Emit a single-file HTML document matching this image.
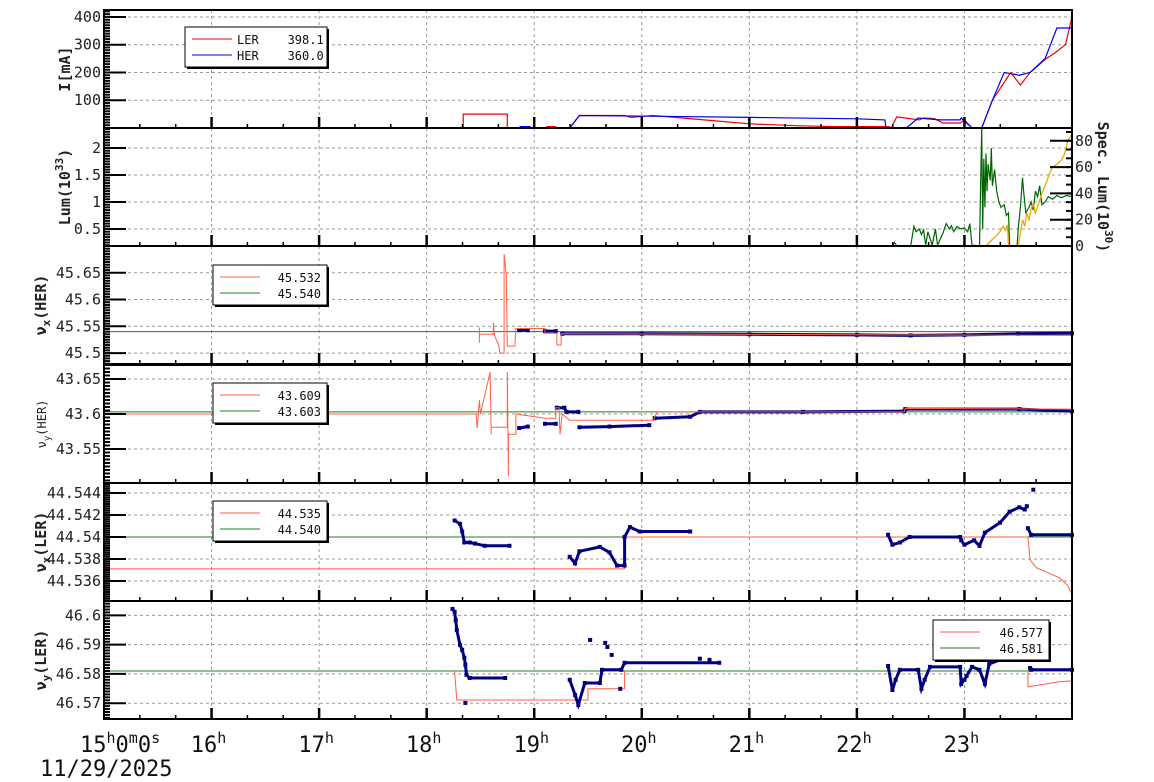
<!DOCTYPE html>
<html><head><meta charset="utf-8">
<style>
html,body{margin:0;padding:0;background:#fff;}
svg{display:block;font-family:"DejaVu Sans Mono","Liberation Mono",monospace;}
</style></head>
<body>
<svg id="chart" width="1154" height="782" viewBox="0 0 1154 782" xmlns="http://www.w3.org/2000/svg">
<g id="grid"></g>
<g id="marks"></g>
<g id="axes"></g>
<g id="legends"></g>
</svg>
<script>
// ---- data ----
const hourTicks = [16,17,18,19,20,21,22,23];
const curLER = [[15,0],[18.34,0],[18.34,50],[18.75,50],[18.75,0],[19.1,0],[19.12,5],[19.2,5],[19.2,0],[19.33,0],[19.42,45],[19.84,45],[19.9,38],[20.1,45],[20.5,32],[21.0,15],[21.47,8],[21.8,5],[22.3,5],[22.32,0],[22.37,40],[22.58,29],[22.62,36],[22.72,34],[22.8,18],[22.96,18],[23.0,29],[23.07,0],[23.16,0],[23.26,100],[23.43,200],[23.52,155],[23.61,200],[23.76,250],[23.84,270],[23.94,300],[24,400]];
const curHER = [[15,0],[18.86,0],[18.87,5],[18.96,5],[18.97,0],[19.33,0],[19.42,45],[20.17,42],[21.0,38],[22.0,33],[22.26,29],[22.27,0],[22.46,0],[22.57,36],[22.77,29],[22.96,29],[22.97,36],[23.07,0],[23.16,0],[23.26,100],[23.37,200],[23.51,190],[23.61,200],[23.75,250],[23.86,360],[24,360]];
const lumGreen = [[22.33,0.185],[22.35,0.25],[22.37,0.19],[22.5,0.19],[22.53,0.55],[22.55,0.45],[22.58,0.5],[22.6,0.4],[22.62,0.48],[22.64,0.2],[22.66,0.45],[22.7,0.2],[22.73,0.5],[22.75,0.2],[22.8,0.42],[22.83,0.6],[22.86,0.5],[22.88,0.56],[22.9,0.45],[22.93,0.55],[22.96,0.5],[23.0,0.52],[23.03,0.45],[23.05,0.6],[23.07,0.2],[23.14,0.19],[23.16,2.37],[23.17,0.5],[23.18,1.8],[23.19,0.9],[23.2,1.9],[23.21,1.2],[23.22,1.7],[23.24,1.4],[23.25,2.0],[23.26,1.3],[23.28,1.6],[23.3,1.2],[23.32,1.0],[23.34,0.9],[23.37,0.95],[23.39,0.75],[23.41,0.8],[23.42,0.19],[23.49,0.19],[23.5,0.5],[23.52,0.9],[23.54,1.45],[23.55,1.2],[23.57,0.8],[23.6,0.9],[23.62,1.0],[23.64,0.85],[23.66,1.2],[23.68,1.1],[23.7,1.3],[23.72,0.95],[23.75,1.0],[23.78,1.1],[23.82,1.05],[23.86,1.12],[23.9,1.08],[23.95,1.12],[24,1.1]];
const specLum = [[22.58,0],[23.2,0],[23.26,5],[23.3,8],[23.33,11],[23.36,15],[23.38,12],[23.4,16],[23.41,0],[23.5,0],[23.52,10],[23.54,20],[23.56,15],[23.58,25],[23.6,20],[23.62,28],[23.64,32],[23.66,25],[23.68,30],[23.7,35],[23.73,42],[23.76,48],[23.79,55],[23.82,60],[23.86,62],[23.9,65],[23.93,70],[23.96,80],[24,85]];
const nxHerRef = 45.540;
const nxHerSet = [[18.49,45.548],[18.49,45.519],[18.49,45.535],[18.62,45.535],[18.62,45.557],[18.63,45.533],[18.67,45.515],[18.68,45.5],[18.72,45.5],[18.72,45.685],[18.74,45.646],[18.75,45.513],[18.82,45.513],[18.83,45.546],[19.1,45.546],[19.1,45.537],[19.21,45.537],[19.21,45.515],[19.25,45.515],[19.25,45.536],[24,45.533]];
const nxHerMeas = [[18.86,45.5426],[18.94,45.5426],null,[19.1,45.541],[19.2,45.541],null,[19.26,45.536],[20.0,45.536],[21.0,45.535],[22.0,45.534],[22.5,45.533],[23.0,45.534],[23.5,45.536],[24,45.537]];
const nyHerRef = 43.603;
const nyHerSet = [[15,43.6],[18.46,43.6],[18.47,43.58],[18.49,43.62],[18.5,43.6],[18.56,43.64],[18.59,43.66],[18.6,43.571],[18.6,43.581],[18.75,43.581],[18.75,43.66],[18.76,43.511],[18.76,43.571],[18.83,43.571],[18.83,43.6],[19.1,43.594],[19.2,43.594],[19.2,43.609],[19.23,43.609],[19.24,43.571],[19.26,43.6],[19.33,43.591],[20.11,43.591],[20.14,43.603],[22.44,43.603],[22.45,43.608],[24,43.607]];
const nyHerMeas = [[18.86,43.58],[18.94,43.582],null,[19.1,43.586],[19.2,43.586],null,[19.21,43.609],[19.28,43.609],[19.3,43.603],[19.41,43.603],null,[19.42,43.581],[19.7,43.582],[20.07,43.584],null,[20.12,43.594],[20.45,43.596],[20.54,43.603],[21.5,43.603],[22.44,43.604],[22.45,43.607],[23.51,43.607],[24,43.604]];
const nxLerRef = 44.540;
const nxLerSet = [[15,44.5371],[19.84,44.5371],[19.84,44.540],[23.59,44.540],[23.61,44.5379],[23.67,44.5372],[23.79,44.5367],[23.88,44.5363],[23.96,44.5356],[24,44.5348]];
const nxLerMeas = [[18.26,44.5415],[18.31,44.5412],[18.33,44.5405],[18.35,44.5395],[18.4,44.5395],[18.45,44.5394],[18.54,44.5392],[18.77,44.5392],null,[19.33,44.5382],[19.38,44.5376],[19.42,44.5387],[19.61,44.5391],[19.7,44.5386],[19.77,44.5374],[19.84,44.5374],[19.84,44.540],[19.89,44.5409],[19.98,44.5405],[20.45,44.5405],null,[22.29,44.5402],[22.33,44.5393],[22.4,44.5395],[22.49,44.540],[22.96,44.540],[22.97,44.5397],[23.0,44.5393],[23.09,44.5397],[23.14,44.5392],[23.19,44.5404],[23.33,44.5413],[23.42,44.5423],[23.51,44.5427],[23.56,44.5425],[23.58,44.5428],null,[23.59,44.5408],[23.62,44.5402],[24,44.5402]];
const nxLerOut = [[23.64,44.5443]];
const nyLerRef = 46.581;
const nyLerSet = [[18.26,46.581],[18.28,46.5711],[19.5,46.5711],[19.5,46.5749],[19.84,46.5749],[19.84,46.581],null,[23.59,46.581],[23.59,46.5756],[23.7,46.5762],[23.88,46.5773],[24,46.5776]];
const nyLerMeas = [[18.24,46.6022],[18.26,46.6012],[18.27,46.5984],[18.28,46.595],[18.31,46.5899],[18.33,46.5882],[18.35,46.5855],[18.36,46.5831],[18.37,46.5797],[18.4,46.5786],[18.73,46.5786],null,[19.33,46.5780],[19.38,46.5728],[19.41,46.5694],[19.47,46.5769],[19.61,46.5769],[19.63,46.5814],[19.81,46.5814],[19.84,46.5838],[20.72,46.5838],null,[22.29,46.5827],[22.33,46.5745],[22.36,46.578],[22.4,46.5814],[22.57,46.5814],[22.6,46.5749],[22.63,46.578],[22.68,46.5824],[22.96,46.5824],[22.97,46.5766],[23.0,46.578],[23.02,46.5793],[23.07,46.5824],[23.14,46.5814],[23.19,46.5766],[23.23,46.5834],[23.33,46.5848],[23.42,46.5855],[23.51,46.5865],[23.56,46.5882],null,[23.61,46.582],[23.62,46.5814],[24,46.5814]];
const nyLerOut = [[18.36,46.5701],[19.52,46.5916],[19.66,46.5906],[19.68,46.5892],[19.72,46.5865],[19.8,46.5749],[20.54,46.5852],[20.63,46.5848]];
const legendP1 = [["LER","398.1","#e00000"],["HER","360.0","#0000e0"]];
const legendP3 = [["45.532","#ff6040"],["45.540","#208020"]];
const legendP4 = [["43.609","#ff6040"],["43.603","#208020"]];
const legendP5 = [["44.535","#ff6040"],["44.540","#208020"]];
const legendP6 = [["46.577","#ff6040"],["46.581","#208020"]];

// ---- layout ----
const X0=104, X1=1072, H0=15, H1=24;
const NS="http://www.w3.org/2000/svg";
function xs(h){return X0+(h-H0)/(H1-H0)*(X1-X0);}
const panels=[
 {top:10, lo:0, hi:425, major:100, first:100, minor:10, dec:0},
 {top:128, lo:0.185, hi:2.37, major:0.5, first:0.5, minor:0.05, dec:1},
 {top:246, lo:45.4796, hi:45.70, major:0.05, first:45.5, minor:0.005, dec:2},
 {top:365, lo:43.5014, hi:43.670, major:0.05, first:43.55, minor:0.005, dec:2},
 {top:483, lo:44.53418, hi:44.54491, major:0.002, first:44.536, minor:0.0002, dec:3},
 {top:601, lo:46.5646, hi:46.6049, major:0.01, first:46.57, minor:0.001, dec:2}
];
const PH=118;
function ys(p,v){return p.top+PH-(v-p.lo)/(p.hi-p.lo)*PH;}
function el(tag,attrs,parent){const e=document.createElementNS(NS,tag);for(const k in attrs)e.setAttribute(k,attrs[k]);parent.appendChild(e);return e;}
const grid=document.getElementById('grid'), marks=document.getElementById('marks'), axes=document.getElementById('axes'), legends=document.getElementById('legends');

function fmt(v,p){let s=v.toFixed(p.dec+1);s=s.replace(/0+$/,'').replace(/\.$/,'');return s;}

panels.forEach((p,i)=>{
  for(let v=p.first; v<=p.hi+1e-9; v+=p.major){
    const y=ys(p,v);
    if(y<p.top+2) continue;
    const g=el('line',{x1:X0,x2:X1,y1:y,y2:y,stroke:'#999','stroke-width':1,'stroke-dasharray':'3,3'},grid);
    
    
    const t=el('line',{x1:X0,x2:X0+22,y1:y,y2:y,stroke:'#000','stroke-width':2},axes);
    
    
    const tx=el('text',{x:101,y:y+5,'text-anchor':'end','font-size':15,fill:'#222'},axes);
    
    
    tx.textContent=fmt(v,p);
  }
  const n=Math.ceil((p.hi-p.lo)/p.minor);
  const startM=Math.ceil(p.lo/p.minor);
  for(let k=0;k<=n;k++){
    const v=(startM+k)*p.minor; const y=ys(p,v);
    if(y<p.top||y>p.top+PH) continue;
    const t=el('line',{x1:X0,x2:X0+6,y1:y,y2:y,stroke:'#000','stroke-width':2},axes);
    
    
  }
  hourTicks.forEach(h=>{
    const x=xs(h);
    const g=el('line',{x1:x,x2:x,y1:p.top,y2:p.top+PH,stroke:'#999','stroke-width':1,'stroke-dasharray':'3,3'},grid);
    
    
  });
  for(let m=1;m<27;m++){
    const h=H0+m/3; const x=xs(h); const major=(m%3===0);
    const t=el('line',{x1:x,x2:x,y1:p.top+PH,y2:p.top+PH-(major?11:4),stroke:'#000','stroke-width':major?2.5:1.5},axes);
    
    
  }
  const f=el('rect',{x:X0,y:p.top,width:X1-X0,height:PH,fill:'none',stroke:'#000','stroke-width':2},axes);
  
  
});

const p2=panels[1];
function ysR(v){return p2.top+PH-(v/89.7)*PH;}
for(let v=0;v<=80;v+=20){
  const y=ysR(v);
  const t=el('line',{x1:X1-22,x2:X1,y1:y,y2:y,stroke:'#000','stroke-width':2},axes);
  
  
  const tx=el('text',{x:1075,y:y+5,'font-size':15,fill:'#222'},axes);
  
  
  tx.textContent=String(v);
}
for(let v=0;v<=89;v+=20/3){
  const t=el('line',{x1:X1-6,x2:X1,y1:ysR(v),y2:ysR(v),stroke:'#000','stroke-width':2},axes);
  
  
}

function path(arr,xf,yf){let d='';let pen=false;arr.forEach(pt=>{if(!pt){pen=false;return;}d+=(pen?'L':'M')+xf(pt[0]).toFixed(1)+' '+yf(pt[1]).toFixed(1)+' ';pen=true;});return d;}
function line(arr,pi,color,w,name){
  const p=panels[pi];
  const e=el('path',{d:path(arr,xs,v=>ys(p,v)),fill:'none',stroke:color,'stroke-width':w,'stroke-linejoin':'miter'},marks);
  
  
}
function refLine(v,pi,color,name){
  const p=panels[pi];const y=ys(p,v);
  const e=el('line',{x1:X0,x2:X1,y1:y,y2:y,stroke:color,'stroke-width':1},marks);
  
  
}
function dots(arr,pi,name,band){
  const p=panels[pi];
  if(band) line(arr,pi,'#000080',3,name+'-band');
  arr.forEach(pt=>{if(!pt)return;
    const r=el('rect',{x:xs(pt[0])-2,y:ys(p,pt[1])-2,width:4,height:4,fill:'#000080'},marks);
    
    
  });
}

line(curLER,0,'#f00000',1.2,'ler-current-line');
line(curHER,0,'#0000f0',1.2,'her-current-line');
line(lumGreen,1,'#006400',1.2,'luminosity-line');
const so=el('path',{d:path(specLum,xs,ysR),fill:'none',stroke:'#f0a800','stroke-width':1.3},marks);



refLine(nxHerRef,2,'#208020','nux-her-reference');
dots(nxHerMeas,2,'nux-her-measured',true);
line(nxHerSet,2,'#ff6040',1,'nux-her-setpoint');

refLine(nyHerRef,3,'#208020','nuy-her-reference');
dots(nyHerMeas,3,'nuy-her-measured',true);
line(nyHerSet,3,'#ff6040',1,'nuy-her-setpoint');

refLine(nxLerRef,4,'#208020','nux-ler-reference');
line(nxLerSet,4,'#ff6040',1,'nux-ler-setpoint');
dots(nxLerMeas,4,'nux-ler-measured',true);
dots(nxLerOut,4,'nux-ler-outlier',false);

refLine(nyLerRef,5,'#208020','nuy-ler-reference');
line(nyLerSet,5,'#ff6040',1,'nuy-ler-setpoint');
dots(nyLerMeas,5,'nuy-ler-measured',true);
dots(nyLerOut,5,'nuy-ler-outlier',false);

function legend(x,y,w,rows,name,withLabel){
  const g=el('g',{},legends);
  
  
  el('rect',{x:x+2,y:y+2,width:w,height:40,fill:'#000'},g);
  el('rect',{x:x,y:y,width:w,height:40,fill:'#fff',stroke:'#000','stroke-width':1},g);
  rows.forEach((r,k)=>{
    const yy=y+13+k*16;
    const color=withLabel?r[2]:r[1];
    el('line',{x1:x+7,x2:x+47,y1:yy-1,y2:yy-1,stroke:color,'stroke-width':1},g);
    const t=el('text',{x:x+w-6,y:yy+4,'text-anchor':'end','font-size':12,fill:'#111'},g);
    
    
    if(withLabel){t.setAttribute('text-anchor','start');t.setAttribute('x',x+52);t.textContent=r[0]+'    '+r[1];t.style.whiteSpace='pre';}
    else t.textContent=r[0];
  });
}
legend(185,27,142,legendP1,'current-legend',true);
legend(213,265,114,legendP3,'nux-her-legend',false);
legend(213,383,114,legendP4,'nuy-her-legend',false);
legend(213,501,114,legendP5,'nux-ler-legend',false);
legend(933,620,116,legendP6,'nuy-ler-legend',false);

hourTicks.forEach(h=>{
  const t=el('text',{x:xs(h)-3,y:752,'text-anchor':'middle','font-size':22,fill:'#111'},axes);
  
  
  t.innerHTML=h+'<tspan dy="-9" font-size="15">h</tspan>';
});
</script>
<div style="position:absolute;left:0;top:0;width:1154px;height:782px;pointer-events:none;">
<svg width="1154" height="782" style="position:absolute;left:0;top:0" xmlns="http://www.w3.org/2000/svg" font-family="DejaVu Sans Mono, Liberation Mono, monospace">
 <text x="80" y="752" font-size="22" fill="#111">15<tspan dy="-9" font-size="15">h</tspan><tspan dy="9">0</tspan><tspan dy="-9" font-size="15">m</tspan><tspan dy="9">0</tspan><tspan dy="-9" font-size="15">s</tspan></text>
 <text x="40" y="776" font-size="22" fill="#111">11/29/2025</text>
 <text transform="translate(70,69) rotate(-90)" text-anchor="middle" font-size="15" font-weight="bold" fill="#222">I[mA]</text>
 <text transform="translate(70,187) rotate(-90)" text-anchor="middle" font-size="15" font-weight="bold" fill="#222">Lum(10<tspan dy="-7" font-size="11">33</tspan><tspan dy="7">)</tspan></text>
 <text transform="translate(1098,187) rotate(90)" text-anchor="middle" font-size="15" font-weight="bold" fill="#222">Spec. Lum(10<tspan dy="-7" font-size="11">30</tspan><tspan dy="7">)</tspan></text>
 <text transform="translate(46,305) rotate(-90)" text-anchor="middle" font-size="15" font-weight="bold" fill="#222">ν<tspan dy="4" font-size="11">x</tspan><tspan dy="-4">(HER)</tspan></text>
 <text transform="translate(46,424) rotate(-90)" text-anchor="middle" font-size="12" fill="#222">ν<tspan dy="4" font-size="9">y</tspan><tspan dy="-4">(HER)</tspan></text>
 <text transform="translate(46,542) rotate(-90)" text-anchor="middle" font-size="15" font-weight="bold" fill="#222">ν<tspan dy="4" font-size="11">x</tspan><tspan dy="-4">(LER)</tspan></text>
 <text transform="translate(46,660) rotate(-90)" text-anchor="middle" font-size="15" font-weight="bold" fill="#222">ν<tspan dy="4" font-size="11">y</tspan><tspan dy="-4">(LER)</tspan></text>
</svg>
</div>
</body></html>
